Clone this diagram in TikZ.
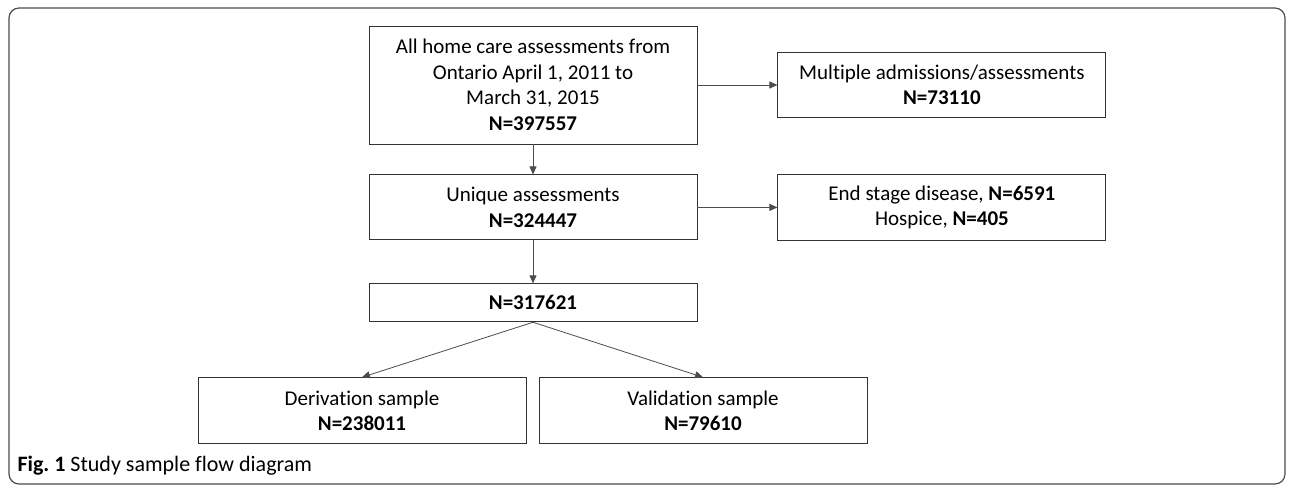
\documentclass[tikz,border=0pt]{standalone}
\usepackage{fontspec}
\setmainfont{Carlito}[Ligatures=NoCommon]
\usetikzlibrary{arrows.meta,positioning}

\begin{document}
\begin{tikzpicture}[
        x=1pt,y=-1pt,
        mybox/.style={
        rectangle,
        draw=black!80,
        line width=0.9pt,
        align=center,
        inner sep=2pt,
        minimum width=328pt,
        font=\fontsize{21}{25.5}\selectfont},
    myarrow/.style={-{Triangle[length=8pt,width=7pt]},draw=black!70,line width=0.8pt},
    node distance=30pt and 80pt
    ]
    \useasboundingbox (0,0) rectangle (1290,485);
    \draw[black!70,line width=1.2pt,rounded corners=10pt] (9,8) rectangle (1285,484);

    \node[mybox,minimum height=118pt] (all) at (533,85)
        {All home care assessments from\\Ontario April 1, 2011 to\\March 31, 2015\\\textbf{N=397557}};
    \node[mybox,minimum height=65pt,below=of all] (uniq)
        {Unique assessments\\\textbf{N=324447}};
    \node[mybox,minimum height=38pt,below=43pt of uniq] (total) {\textbf{N=317621}};
    \node[mybox,minimum height=65pt,right=of all] (multi)
        {Multiple admissions/assessments\\\textbf{N=73110}};
    \node[mybox,minimum height=66pt,right=of uniq] (endst)
        {End stage disease, \textbf{N=6591}\\Hospice, \textbf{N=405}};
    \node[mybox,minimum height=66pt,below=55pt of total,xshift=-171pt] (deriv)
        {Derivation sample\\\textbf{N=238011}};
    \node[mybox,minimum height=66pt,below=55pt of total,xshift=170pt] (valid)
        {Validation sample\\\textbf{N=79610}};

    \foreach \i/\j in {% start/end
        all.east/multi.west,
        uniq.east/endst.west,
        all.south/uniq.north,
        uniq.south/total.north,
        total.south/deriv.north,
        total.south/valid.north}
        \draw [myarrow] (\i) -- (\j);

    \node[anchor=west,font=\fontsize{22}{26}\selectfont] (cap) at (14,466)
        {\textbf{Fig.\ 1} Study sample flow diagram};
\end{tikzpicture}
\end{document}
